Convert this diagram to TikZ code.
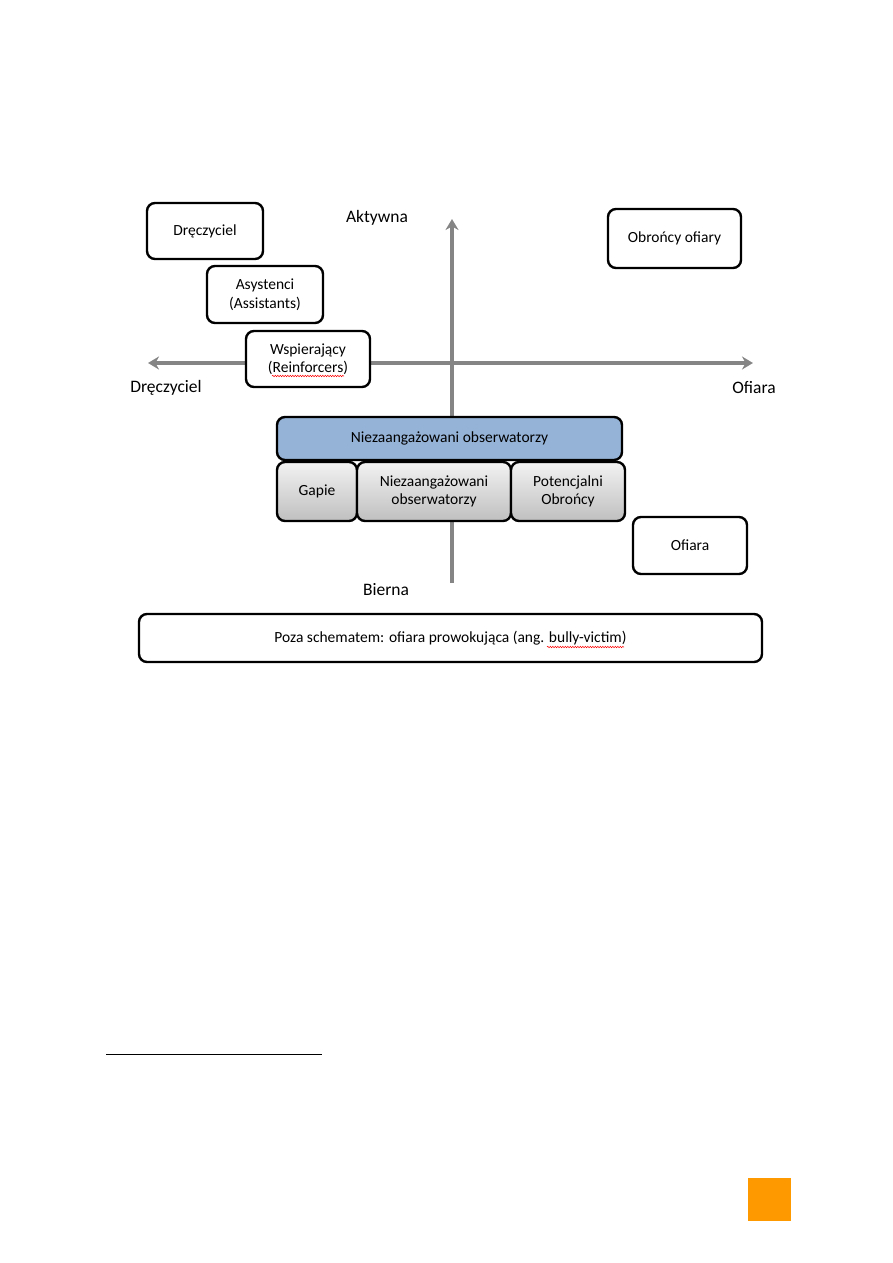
\documentclass[tikz,border=0pt]{standalone}
\usepackage{fontspec}
\setmainfont{Carlito}
\usetikzlibrary{arrows.meta,decorations.pathmorphing,shadows}
\definecolor{axisgray}{HTML}{858585}
\definecolor{boxblue}{HTML}{95B3D7}
\definecolor{pageorange}{HTML}{FF9900}
\tikzset{
  rolebox/.style={draw=black, line width=2.4pt, rounded corners=8pt, fill=white, align=center, font=\fontsize{15.5}{18.5}\selectfont, inner sep=2pt},
  graybox/.style={rolebox, top color=white!95!black, bottom color=white!75!black},
  axislabel/.style={font=\fontsize{17.5}{20}\selectfont, inner sep=0pt},
  axisline/.style={draw=axisgray, line width=3.5pt},
  spell/.style={draw=red, line width=0.5pt, decorate, decoration={snake, amplitude=0.7pt, segment length=2.5pt}}
}
\begin{document}
\begin{tikzpicture}[x=1pt,y=-1pt]
\useasboundingbox (0,0) rectangle (893,1263);
% axes
\coordinate (hL) at (148,363);
\coordinate (hR) at (753,363);
\coordinate (vB) at (452,583);
\coordinate (vT) at (452,219);
\draw[axisline, {Stealth[length=11pt,width=13pt]}-{Stealth[length=11pt,width=13pt]}] (hL) -- (hR);
\draw[axisline, -{Stealth[length=11pt,width=13pt]}] (vB) -- (vT);
\node[axislabel] (lakt) at (377,218) {Aktywna};
\node[axislabel] (ldr) at (166,388) {Dręczyciel};
\node[axislabel] (lof) at (754,388) {Ofiara};
\node[axislabel] (lbi) at (386,590) {Bierna};
% boxes
\node[rolebox, minimum width=116pt, minimum height=56pt] (dr) at (205,231) {Dręczyciel};
\node[rolebox, minimum width=116pt, minimum height=57pt] (as) at (265,294.5) {Asystenci\\(Assistants)};
\node[rolebox, minimum width=124pt, minimum height=56pt] (ws) at (308,359) {Wspierający\\(Reinforcers)};
\node[rolebox, minimum width=133pt, minimum height=59pt] (ob) at (674.5,238.5) {Obrońcy ofiary};
\node[rolebox, fill=boxblue, minimum width=345pt, minimum height=43pt] (nz) at (449.5,438.5) {Niezaangażowani obserwatorzy};
\node[graybox, minimum width=80pt, minimum height=59pt] (ga) at (317,491.5) {Gapie};
\node[graybox, minimum width=154pt, minimum height=59pt] (no) at (434,491.5) {Niezaangażowani\\obserwatorzy};
\node[graybox, minimum width=114pt, minimum height=59pt] (po) at (568,491.5) {Potencjalni\\Obrońcy};
\node[rolebox, minimum width=114pt, minimum height=57pt] (of) at (690,545.5) {Ofiara};
\node[rolebox, minimum width=623pt, minimum height=48pt] (poza) at (450.5,638) {Poza schematem: ofiara prowokująca (ang. bully-victim)};
% spelling marks
\coordinate (s1a) at (272,376);
\coordinate (s1b) at (344,376);
\draw[spell] (s1a) -- (s1b);
\coordinate (s2a) at (547,647);
\coordinate (s2b) at (624,647);
\draw[spell] (s2a) -- (s2b);
% footnote rule and page marker
\coordinate (fa) at (106,1054);
\coordinate (fb) at (322,1054);
\draw[line width=1pt] (fa) -- (fb);
\fill[pageorange] (748,1178) rectangle (791,1221);
\end{tikzpicture}
\end{document}
